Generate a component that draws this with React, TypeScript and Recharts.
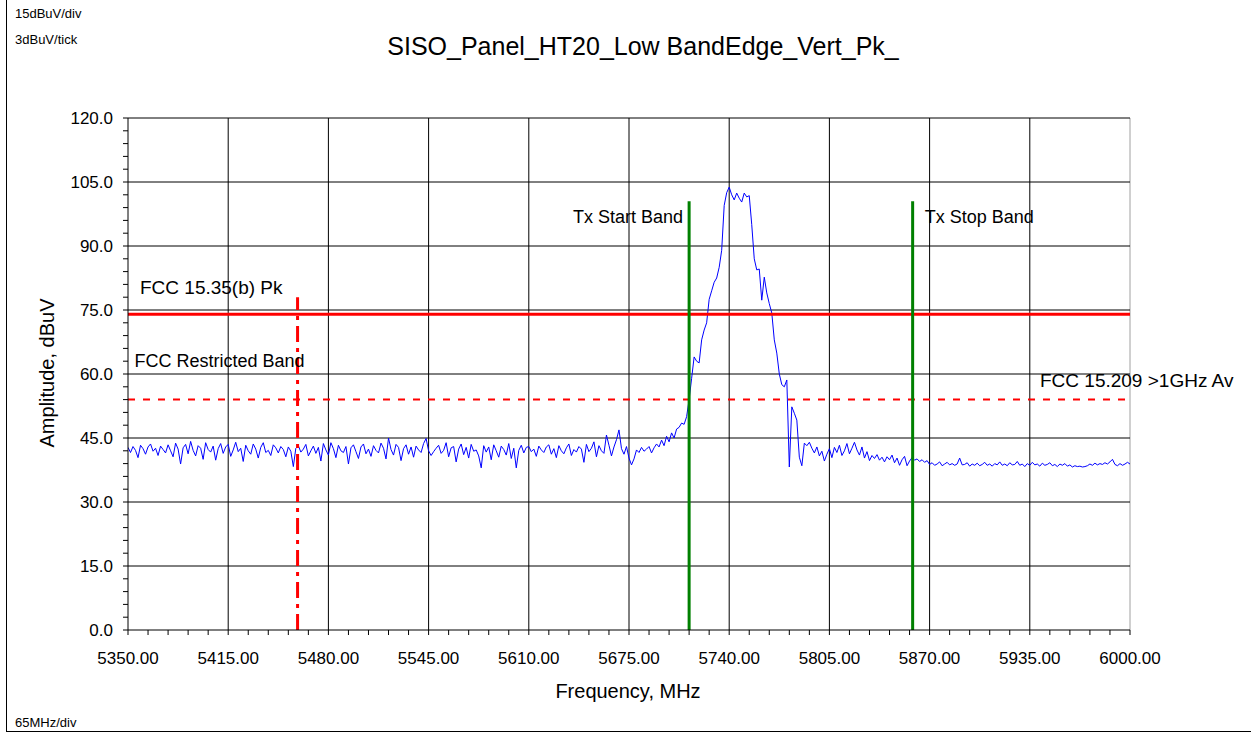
import { LineChart, Line, XAxis, YAxis, ReferenceLine } from "recharts";

// sweep: 5350 MHz start, 1.625 MHz per point, 401 points to 6000 MHz
const startFreq = 5350;
const stepFreq = 1.625;

// amplitude (dBuV)
const amplitude = [
  42.8, 41.6, 43.0, 42.1, 40.4, 43.3, 42.5, 41.2, 42.9, 43.6,
  41.9, 42.6, 40.9, 43.1, 42.3, 41.5, 43.4, 42.0, 40.6, 43.8,
  42.4, 38.9, 42.7, 43.5, 41.3, 44.2, 42.1, 40.8, 43.2, 42.6,
  40.0, 43.9, 42.3, 41.7, 43.1, 39.8, 42.5, 43.7, 41.4, 42.9,
  43.5, 40.7, 42.2, 44.0, 41.8, 42.6, 39.5, 43.3, 42.0, 41.2,
  43.6, 42.4, 40.3, 42.8, 43.9, 41.6, 42.1, 40.9, 43.4, 42.7,
  41.5, 43.0, 42.3, 40.6, 42.9, 41.9, 38.3, 42.6, 43.2, 41.7,
  42.4, 43.5, 40.8, 42.0, 43.1, 41.4, 42.8, 39.6, 43.7, 42.2,
  41.0, 43.9, 42.5, 40.4, 43.3, 42.0, 41.6, 43.0, 38.9, 42.7,
  43.4, 41.8, 40.2, 42.9, 43.6, 41.3, 42.4, 40.7, 43.2, 42.1,
  41.5, 43.8, 42.6, 40.1, 45.0, 42.3, 41.0, 43.5, 42.8, 39.7,
  42.5, 43.4, 41.2, 42.9, 40.5, 43.1, 42.2, 41.6, 43.7, 44.9,
  42.0, 40.9, 41.8, 42.6, 43.3, 41.4, 42.1, 43.9, 40.6, 42.7,
  43.0, 39.4, 42.4, 43.6, 41.1, 42.8, 40.3, 43.5, 41.9, 42.2,
  40.8, 38.0, 43.2, 41.7, 42.9, 39.9, 43.4, 42.0, 40.5, 43.1,
  42.3, 41.0, 43.7, 40.2, 42.6, 38.0, 42.1, 43.3, 41.5, 42.8,
  43.0, 41.8, 42.4, 40.7, 43.1, 42.2, 41.6, 42.9, 43.4, 41.2,
  42.5, 40.4, 43.2, 42.0, 41.3, 42.7, 43.6, 40.9, 42.3, 41.7,
  43.0, 42.4, 39.3, 43.5, 41.8, 42.6, 44.1, 40.6, 43.2, 42.0,
  41.4, 45.7, 43.3, 40.8, 42.9, 44.6, 46.9, 42.5, 41.2, 43.0,
  40.3, 38.7, 40.1, 42.2, 41.6, 42.8, 41.9, 42.4, 43.0, 41.5,
  42.7, 43.6, 42.9, 44.5, 43.2, 45.4, 44.1, 46.2, 45.0, 47.1,
  47.5, 48.5, 48.2, 50.0, 54.0, 59.0, 64.0, 63.0, 62.6, 68.0,
  70.3, 72.0, 77.5, 79.5, 81.5, 82.5, 85.0, 89.0, 99.5, 102.5,
  103.8, 102.0, 100.8, 102.4, 101.2, 100.3, 102.4, 101.5, 101.8, 95.0,
  87.0, 84.4, 84.6, 77.3, 82.7, 79.0, 76.5, 74.3, 68.0, 64.9,
  60.0, 57.5, 57.0, 58.6, 38.2, 52.3, 50.8, 49.2, 40.5, 38.5,
  43.8, 43.2, 44.0, 42.6, 41.5, 42.9, 40.8, 41.9, 39.6, 41.2,
  42.5, 40.4, 42.8, 41.6, 43.3, 40.9, 42.0, 43.7, 41.3, 42.6,
  44.0, 42.2, 41.0, 42.9, 40.3, 41.8, 39.7, 40.9, 40.2, 41.1,
  39.8, 40.5, 39.4, 40.6, 39.9, 41.0, 39.2, 40.3, 38.6, 39.9,
  40.7, 38.5, 39.6, 40.4, 39.8, 40.1, 39.5, 39.9, 39.3, 39.7,
  38.8, 39.2, 38.6, 38.9, 39.4, 38.5, 38.9, 39.3, 38.7, 39.0,
  38.6, 38.9, 40.3, 38.7, 38.8, 39.2, 38.4, 38.9, 38.6, 39.1,
  38.5, 38.8, 39.3, 38.6, 38.9, 38.4, 39.0, 38.7, 39.4, 38.6,
  38.9, 38.5, 39.2, 38.7, 38.8, 39.5, 38.6, 38.9, 38.3, 39.0,
  38.6, 39.3, 38.7, 38.9, 38.4, 39.1, 38.6, 38.8, 39.2, 38.5,
  38.8, 38.3, 38.9, 38.6, 39.0, 38.4, 38.7, 38.2, 38.5, 38.3,
  38.4, 38.2, 38.3, 38.5, 38.9, 38.6, 39.1, 38.7, 39.0, 38.8,
  39.2, 38.9, 39.4, 40.0, 38.8, 38.5, 39.0, 38.6, 38.9, 39.3,
  38.9,
];

const freqMajor = [5350, 5415, 5480, 5545, 5610, 5675, 5740, 5805, 5870, 5935, 6000];
const ampMajor = [0, 15, 30, 45, 60, 75, 90, 105, 120];
// 5 minor ticks per division: 13 MHz and 3 dBuV
const freqTicks = Array.from({ length: 51 }, (_, i) => 5350 + i * 13);
const ampTicks = Array.from({ length: 41 }, (_, i) => i * 3);

const peakLimit = 74;
const avgLimit = 54;
const restrictedEdge = 5460;
const restrictedTop = 78;
const txStart = 5714;
const txStop = 5859;
const txTop = 100.5;

const data = amplitude.map((v, i) => ({ freq: startFreq + i * stepFreq, amp: v }));

const FONT = "'Liberation Sans', Arial, sans-serif";
const PLOT_BOTTOM = 630;
const PLOT_LEFT = 128;

const FreqTick = (props: any) => {
  const { x, payload } = props;
  const v = payload.value;
  const major = freqMajor.includes(v);
  return (
    <g>
      <line x1={x} x2={x} y1={PLOT_BOTTOM} y2={PLOT_BOTTOM + 5} stroke="#000" />
      {major && (
        <text x={x} y={PLOT_BOTTOM + 28} textAnchor="middle" dominantBaseline="central"
          fontSize={17} fontFamily={FONT} fill="#000">
          {v.toFixed(2)}
        </text>
      )}
    </g>
  );
};

const AmpTick = (props: any) => {
  const { y, payload } = props;
  const v = payload.value;
  const major = ampMajor.includes(v);
  return (
    <g>
      <line x1={PLOT_LEFT - 5} x2={PLOT_LEFT} y1={y} y2={y} stroke="#000" />
      {major && (
        <text x={PLOT_LEFT - 15} y={y} textAnchor="end" dominantBaseline="central"
          fontSize={17} fontFamily={FONT} fill="#000">
          {v.toFixed(1)}
        </text>
      )}
    </g>
  );
};

const tag = (text: string, dx: number, dy: number, anchor: string, size = 18) => (props: any) => {
  const vb = props.viewBox;
  return (
    <text x={vb.x + dx} y={vb.y + dy} textAnchor={anchor} dominantBaseline="central"
      fontSize={size} fontFamily={FONT} fill="#000">
      {text}
    </text>
  );
};

const abs = (left: number, top: number, size: number, extra: any = {}) => ({
  position: "absolute" as const, left, top, fontSize: size, fontFamily: FONT,
  color: "#000", whiteSpace: "nowrap" as const, lineHeight: 1, ...extra,
});

export default function App() {
  return (
    <div style={{ position: "absolute", left: 0, top: 0, width: 1251, height: 732, overflow: "hidden", background: "#fff" }}>
      <div style={{ position: "absolute", left: 6, top: 0, width: 1245, height: 731, borderLeft: "1px solid #000", borderBottom: "1px solid #000" }} />
      <div style={abs(15, 7, 13)}>15dBuV/div</div>
      <div style={abs(15, 33, 13)}>3dBuV/tick</div>
      <div style={abs(15, 716, 13)}>65MHz/div</div>
      <div style={abs(0, 34, 25, { width: 1286, textAlign: "center" })}>SISO_Panel_HT20_Low BandEdge_Vert_Pk_</div>
      <div style={abs(0, 681, 20, { width: 1256, textAlign: "center" })}>Frequency, MHz</div>
      <div style={abs(47, 373, 20, { transform: "translate(-50%, -50%) rotate(-90deg)" })}>Amplitude, dBuV</div>

      <LineChart width={1251} height={732} data={data}
        margin={{ top: 118, right: 121, bottom: 72, left: 0 }}
        style={{ position: "absolute", left: 0, top: 0 }}>
        <XAxis dataKey="freq" type="number" domain={[5350, 6000]} ticks={freqTicks}
          interval={0} tick={FreqTick} tickLine={false} height={30}
          axisLine={{ stroke: "#000" }} allowDataOverflow />
        <YAxis type="number" domain={[0, 120]} ticks={ampTicks} interval={0}
          tick={AmpTick} tickLine={false} width={128} axisLine={{ stroke: "#000" }} />

        {freqMajor.slice(1).map((f) => (
          <ReferenceLine key={"vx" + f} x={f} stroke={f === 6000 ? "#a0a0a0" : "#000"} strokeWidth={1} />
        ))}
        {ampMajor.slice(1).map((a) => (
          <ReferenceLine key={"hy" + a} y={a} stroke="#000" strokeWidth={1} />
        ))}

        <Line type="linear" dataKey="amp" stroke="#0000ff" strokeWidth={1} dot={false}
          isAnimationActive={false} />

        <ReferenceLine y={peakLimit} stroke="#ff0000" strokeWidth={3}
          label={tag("FCC 15.35(b) Pk", 12, -27, "start", 19)} />
        <ReferenceLine y={avgLimit} stroke="#ff0000" strokeWidth={2} strokeDasharray="7 8"
          label={tag("FCC 15.209 >1GHz Av", 912, -19, "start", 19)} />
        <ReferenceLine segment={[{ x: restrictedEdge, y: 0 }, { x: restrictedEdge, y: restrictedTop }]}
          stroke="#ff0000" strokeWidth={3} strokeDasharray="16 6 4 6"
          label={tag("FCC Restricted Band", -163, 64, "start", 18)} />
        <ReferenceLine segment={[{ x: txStart, y: 0 }, { x: txStart, y: txTop }]}
          stroke="#008000" strokeWidth={3}
          label={tag("Tx Start Band", -6, 16, "end", 18)} />
        <ReferenceLine segment={[{ x: txStop, y: 0 }, { x: txStop, y: txTop }]}
          stroke="#008000" strokeWidth={3}
          label={tag("Tx Stop Band", 12, 16, "start", 18)} />
      </LineChart>
    </div>
  );
}
